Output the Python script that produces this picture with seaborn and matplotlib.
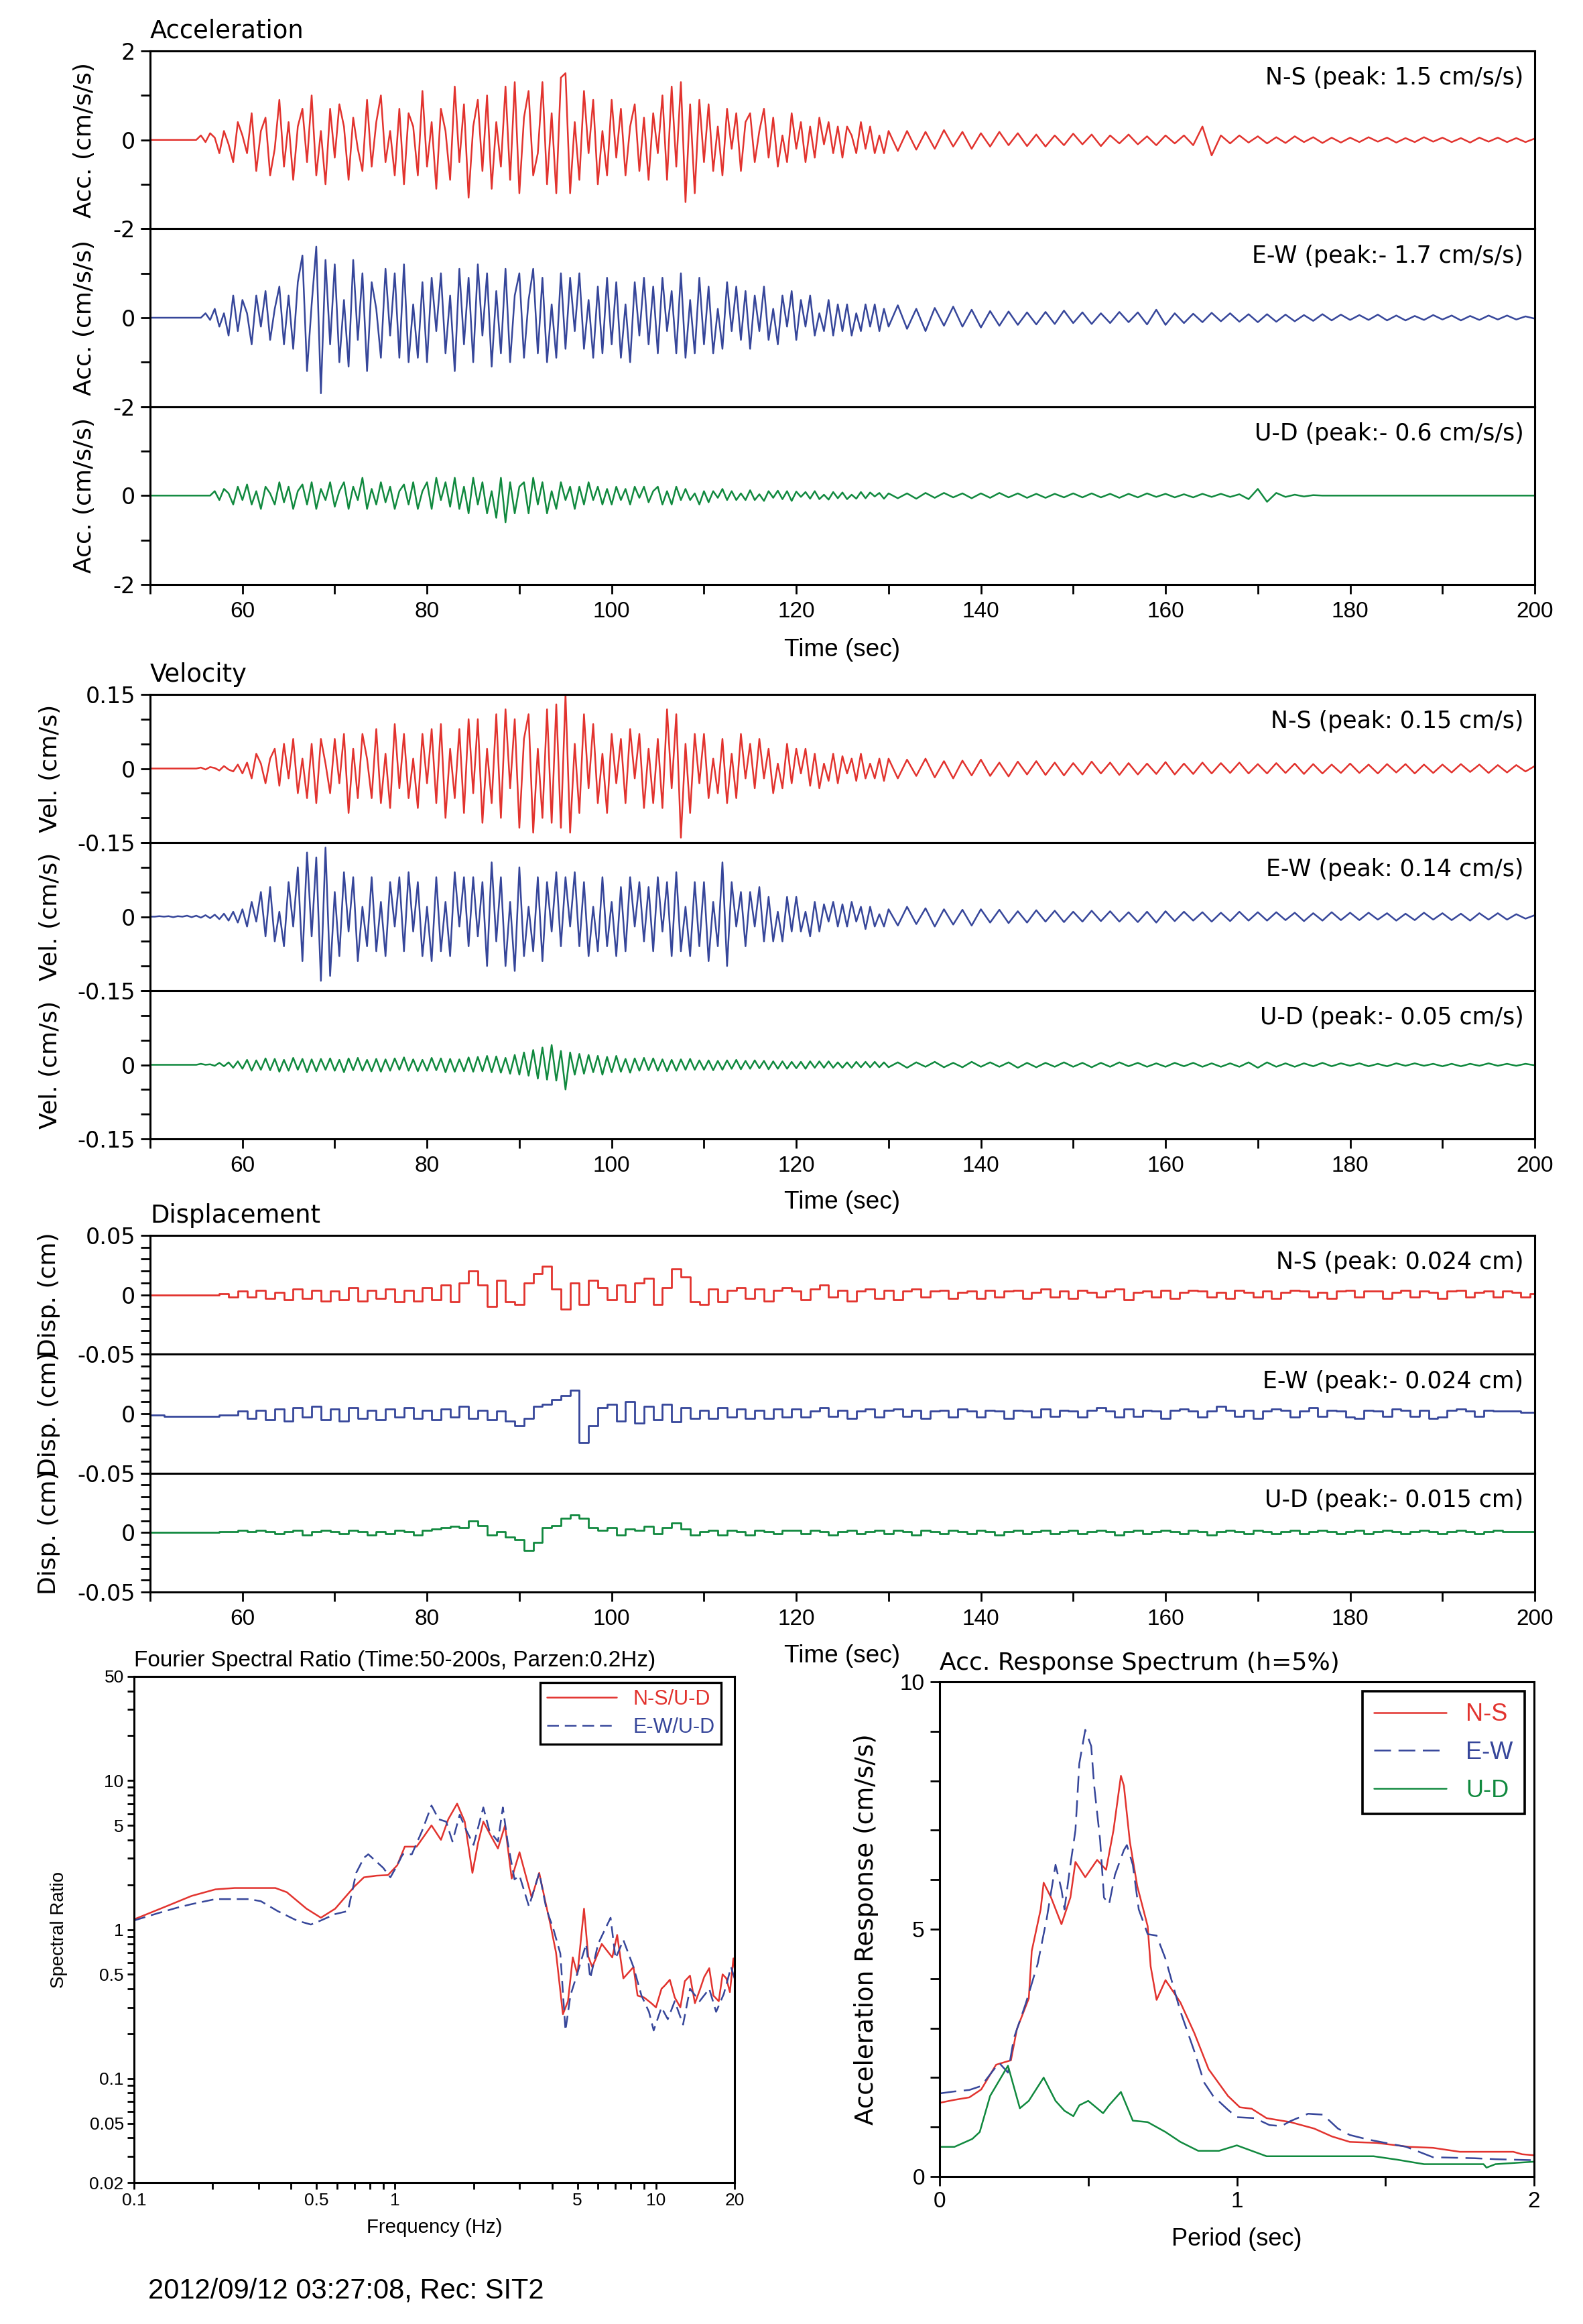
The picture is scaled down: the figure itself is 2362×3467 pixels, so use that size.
import numpy as np
import matplotlib
matplotlib.use("Agg")
import matplotlib.pyplot as plt
import seaborn as sns
from matplotlib import font_manager
from matplotlib.ticker import MultipleLocator, FixedLocator, FuncFormatter, LogLocator, NullFormatter

# ---------------- data ----------------
# time grids (s): 0.5 s samples for the strong part, 1 s for the coda
T_DENSE = np.arange(50.0, 130.25, 0.5)
T_TAIL = np.arange(131.0, 200.5, 1.0)
T_DISP = np.arange(50.0, 200.5, 1.0)

# acceleration (cm/s/s)
ACC_NS_DENSE = [0, 0, 0, 0, 0, 0, 0, 0, 0, 0,
                0, 0.1, -0.05, 0.15, 0.05, -0.3, 0.2, -0.1, -0.5, 0.4,
                0.1, -0.3, 0.6, -0.7, 0.2, 0.5, -0.8, -0.2, 0.9, -0.6,
                0.4, -0.9, 0.3, 0.7, -0.5, 1.0, -0.8, 0.2, -1.0, 0.7,
                -0.4, 0.8, 0.3, -0.9, 0.5, -0.2, -0.7, 0.9, -0.6, 0.4,
                1.0, -0.5, 0.2, -0.8, 0.7, -1.0, 0.6, 0.3, -0.8, 1.1,
                -0.6, 0.4, -1.1, 0.7, 0.2, -0.9, 1.2, -0.5, 0.8, -1.3,
                0.3, 0.9, -0.7, 1.0, -1.1, 0.4, -0.6, 1.2, -0.9, 1.3,
                -1.2, 0.5, 1.1, -0.8, -0.3, 1.3, -1.0, 0.6, -1.2, 1.4,
                1.5, -1.2, 0.4, -0.9, 1.1, -0.3, 0.9, -1.0, 0.2, -0.8,
                0.9, -0.4, 0.7, -0.8, 0.3, 0.8, -0.7, 0.5, -0.9, 0.6,
                -0.3, 1.0, -0.9, 1.2, -0.6, 1.3, -1.4, 0.8, -1.2, 0.9,
                -0.5, 0.8, -0.7, 0.3, -0.8, 0.7, -0.2, 0.6, -0.7, 0.4,
                0.6, -0.5, 0.2, 0.7, -0.4, 0.5, -0.6, 0.1, -0.5, 0.6,
                -0.2, 0.4, -0.5, 0.3, -0.4, 0.5, -0.1, 0.4, -0.3, 0.3,
                -0.4, 0.3, 0.1, -0.3, 0.4, -0.2, 0.3, -0.3, 0.1, -0.3,
                0.2]
ACC_NS_TAIL = [-0.25, 0.2, -0.22, 0.18, -0.2, 0.22, -0.15, 0.18, -0.2, 0.15,
               -0.15, 0.18, -0.12, 0.15, -0.14, 0.12, -0.15, 0.1, -0.12, 0.14,
               -0.1, 0.12, -0.14, 0.1, -0.08, 0.12, -0.1, 0.08, -0.12, 0.1,
               -0.08, 0.1, -0.12, 0.3, -0.35, 0.1, -0.08, 0.1, -0.06, 0.08,
               -0.08, 0.06, -0.07, 0.08, -0.05, 0.06, -0.07, 0.05, -0.06, 0.05,
               -0.05, 0.06, -0.04, 0.05, -0.06, 0.04, -0.05, 0.06, -0.04, 0.05,
               -0.05, 0.04, -0.06, 0.05, -0.04, 0.05, -0.05, 0.04, -0.05, 0.03]

ACC_EW_DENSE = [0, 0, 0, 0, 0, 0, 0, 0, 0, 0,
                0, 0, 0.1, -0.05, 0.2, -0.2, 0.1, -0.4, 0.5, -0.3,
                0.4, 0.1, -0.6, 0.5, -0.2, 0.6, -0.5, 0.2, 0.7, -0.6,
                0.5, -0.7, 0.8, 1.4, -1.2, 0.3, 1.6, -1.7, 1.3, -0.6,
                1.2, -1.0, 0.4, -1.1, 1.3, -0.5, 1.0, -1.2, 0.8, 0.2,
                -0.9, 1.1, -0.4, 1.0, -0.9, 1.2, -1.0, 0.3, -0.9, 0.8,
                -1.0, 0.9, -0.3, 1.0, -0.8, 0.5, -1.2, 1.1, -0.6, 0.9,
                -1.0, 1.2, -0.4, 1.0, -1.1, 0.6, -0.8, 1.1, -1.0, 0.5,
                1.0, -0.9, 0.4, 1.1, -0.8, 0.9, -1.0, 0.3, -0.9, 1.0,
                -0.7, 0.9, -0.3, 1.0, -0.7, 0.4, -0.9, 0.7, -0.8, 0.9,
                -0.6, 0.8, -0.9, 0.3, -1.0, 0.8, -0.4, 0.9, -0.6, 0.7,
                -0.8, 0.9, -0.3, 0.6, -0.8, 1.0, -0.9, 0.4, -0.8, 0.9,
                -0.6, 0.7, -0.8, 0.2, -0.7, 0.8, -0.3, 0.7, -0.5, 0.6,
                -0.7, 0.5, -0.3, 0.7, -0.5, 0.2, -0.6, 0.5, -0.2, 0.6,
                -0.5, 0.4, -0.2, 0.5, -0.4, 0.1, -0.3, 0.4, -0.4, 0.3,
                -0.3, 0.3, -0.4, 0.1, -0.3, 0.3, -0.2, 0.3, -0.3, 0.2,
                -0.2]
ACC_EW_TAIL = [0.28, -0.25, 0.2, -0.3, 0.22, -0.18, 0.25, -0.2, 0.18, -0.22,
               0.15, -0.18, 0.14, -0.16, 0.12, -0.15, 0.13, -0.14, 0.16, -0.12,
               0.12, -0.14, 0.1, -0.12, 0.13, -0.1, 0.12, -0.15, 0.18, -0.16,
               0.1, -0.12, 0.09, -0.1, 0.11, -0.08, 0.1, -0.09, 0.08, -0.1,
               0.08, -0.09, 0.07, -0.08, 0.06, -0.07, 0.08, -0.06, 0.07, -0.05,
               0.06, -0.05, 0.07, -0.06, 0.05, -0.06, 0.04, -0.05, 0.06, -0.04,
               0.05, -0.06, 0.04, -0.05, 0.05, -0.04, 0.05, -0.04, 0.03, -0.02]

ACC_UD_DENSE = [0, 0, 0, 0, 0, 0, 0, 0, 0, 0,
                0, 0, 0, 0, 0.1, -0.1, 0.15, 0.05, -0.2, 0.2,
                -0.1, 0.25, -0.2, 0.1, -0.3, 0.2, 0.05, -0.2, 0.3, -0.15,
                0.2, -0.3, 0.1, 0.25, -0.2, 0.3, -0.3, 0.15, -0.1, 0.3,
                -0.25, 0.1, 0.3, -0.3, 0.2, -0.1, 0.4, -0.3, 0.15, -0.2,
                0.3, -0.15, 0.2, -0.3, 0.1, 0.25, -0.2, 0.3, -0.3, 0.1,
                0.3, -0.3, 0.4, -0.1, 0.3, -0.25, 0.4, -0.3, 0.2, -0.4,
                0.4, -0.2, 0.3, -0.4, 0.1, -0.5, 0.4, -0.6, 0.3, -0.4,
                0.2, 0.3, -0.4, 0.4, -0.2, 0.3, -0.4, 0.1, -0.3, 0.3,
                -0.1, 0.2, -0.3, 0.2, -0.2, 0.3, -0.1, 0.2, -0.2, 0.15,
                -0.2, 0.2, -0.1, 0.15, -0.2, 0.2, -0.05, 0.2, -0.15, 0.1,
                0.2, -0.2, 0.1, -0.2, 0.2, -0.1, 0.15, -0.1, 0.05, -0.2,
                0.1, -0.15, 0.1, -0.05, 0.15, -0.1, 0.1, -0.1, 0.05, -0.1,
                0.12, -0.1, 0.03, -0.12, 0.1, -0.05, 0.11, -0.08, 0.1, -0.12,
                0.09, -0.03, 0.08, -0.07, 0.1, -0.08, 0.02, -0.09, 0.08, -0.06,
                0.07, -0.08, 0.02, -0.07, 0.08, -0.06, 0.07, -0.02, 0.06, -0.07,
                0.05]
ACC_UD_TAIL = [-0.06, 0.05, -0.07, 0.06, -0.05, 0.06, -0.04, 0.05, -0.06, 0.05,
               -0.05, 0.06, -0.04, 0.05, -0.05, 0.04, -0.05, 0.04, -0.04, 0.05,
               -0.04, 0.05, -0.04, 0.04, -0.05, 0.04, -0.04, 0.05, -0.03, 0.04,
               -0.04, 0.03, -0.04, 0.04, -0.03, 0.04, -0.03, 0.03, -0.08, 0.15,
               -0.14, 0.06, -0.03, 0.02, -0.02, 0.01, 0, 0, 0, 0,
               0, 0, 0, 0, 0, 0, 0, 0, 0, 0,
               0, 0, 0, 0, 0, 0, 0, 0, 0, 0]

# velocity (cm/s)
VEL_NS_DENSE = [0, 0, 0, 0, 0, 0, 0, 0, 0, 0,
                0, 0.002, -0.002, 0.003, 0.001, -0.004, 0.005, -0.002, -0.006, 0.008,
                -0.01, 0.012, -0.02, 0.03, 0.01, -0.03, 0.02, 0.04, -0.035, 0.05,
                -0.02, 0.06, -0.05, 0.02, -0.06, 0.05, -0.07, 0.06, 0.01, -0.05,
                0.06, -0.03, 0.07, -0.09, 0.04, -0.06, 0.07, 0.02, -0.06, 0.08,
                -0.07, 0.03, -0.08, 0.09, -0.04, 0.07, -0.06, 0.02, -0.08, 0.07,
                -0.03, 0.08, -0.07, 0.09, -0.1, 0.04, -0.06, 0.08, -0.09, 0.1,
                -0.05, 0.1, -0.11, 0.04, -0.07, 0.11, -0.1, 0.12, -0.04, 0.1,
                -0.12, 0.06, 0.11, -0.13, 0.04, -0.1, 0.12, -0.11, 0.13, -0.12,
                0.15, -0.13, 0.05, -0.09, 0.11, -0.04, 0.09, -0.07, 0.03, -0.09,
                0.07, -0.03, 0.06, -0.07, 0.08, -0.02, 0.07, -0.08, 0.04, -0.07,
                0.06, -0.08, 0.12, -0.04, 0.11, -0.14, 0.05, -0.09, 0.07, -0.03,
                0.07, -0.06, 0.02, -0.05, 0.06, -0.07, 0.03, -0.06, 0.07, -0.02,
                0.05, -0.04, 0.06, -0.02, 0.04, -0.05, 0.01, -0.04, 0.05, -0.03,
                0.04, -0.01, 0.04, -0.035, 0.03, -0.04, 0.01, -0.025, 0.03, -0.03,
                0.025, -0.01, 0.02, -0.025, 0.03, -0.02, 0.01, -0.02, 0.02, -0.025,
                0.02]
VEL_NS_TAIL = [-0.02, 0.018, -0.015, 0.02, -0.018, 0.015, -0.02, 0.016, -0.014, 0.018,
               -0.015, 0.012, -0.016, 0.014, -0.012, 0.015, -0.013, 0.012, -0.014, 0.011,
               -0.012, 0.014, -0.01, 0.012, -0.013, 0.011, -0.012, 0.01, -0.011, 0.013,
               -0.012, 0.01, -0.011, 0.012, -0.01, 0.011, -0.009, 0.012, -0.01, 0.009,
               -0.01, 0.011, -0.009, 0.01, -0.011, 0.009, -0.01, 0.008, -0.009, 0.01,
               -0.009, 0.008, -0.01, 0.009, -0.008, 0.009, -0.01, 0.008, -0.009, 0.008,
               -0.008, 0.009, -0.007, 0.008, -0.009, 0.007, -0.008, 0.007, -0.006, 0.005]

VEL_EW_DENSE = [0, 0, 0.001, 0, 0.001, -0.001, 0.001, 0, 0.002, -0.001,
                0.002, -0.002, 0.003, -0.003, 0.004, -0.005, 0.006, -0.008, 0.01, -0.012,
                0.015, -0.02, 0.03, -0.01, 0.05, -0.04, 0.06, -0.05, 0.01, -0.06,
                0.07, -0.02, 0.1, -0.09, 0.13, -0.04, 0.12, -0.13, 0.14, -0.12,
                0.05, -0.08, 0.09, -0.03, 0.08, -0.09, 0.02, -0.06, 0.08, -0.07,
                0.03, -0.08, 0.07, -0.02, 0.08, -0.07, 0.09, -0.03, 0.07, -0.08,
                0.02, -0.09, 0.08, -0.07, 0.03, -0.08, 0.09, -0.02, 0.08, -0.06,
                0.08, -0.04, 0.07, -0.1, 0.11, -0.05, 0.08, -0.1, 0.03, -0.11,
                0.1, -0.08, 0.02, -0.07, 0.08, -0.09, 0.07, -0.03, 0.09, -0.06,
                0.08, -0.02, 0.09, -0.06, 0.07, -0.08, 0.02, -0.07, 0.08, -0.06,
                0.03, -0.08, 0.06, -0.07, 0.08, -0.02, 0.07, -0.05, 0.06, -0.07,
                0.08, -0.03, 0.07, -0.08, 0.09, -0.07, 0.02, -0.08, 0.07, -0.06,
                0.07, -0.09, 0.03, -0.06, 0.11, -0.1, 0.07, -0.02, 0.05, -0.06,
                0.05, -0.02, 0.06, -0.05, 0.04, -0.05, 0.01, -0.05, 0.04, -0.03,
                0.04, -0.03, 0.01, -0.04, 0.03, -0.03, 0.025, -0.01, 0.03, -0.02,
                0.025, -0.02, 0.03, -0.01, 0.02, -0.025, 0.02, -0.02, 0.005, -0.02,
                0.015]
VEL_EW_TAIL = [-0.018, 0.02, -0.015, 0.017, -0.02, 0.015, -0.016, 0.014, -0.018, 0.015,
               -0.012, 0.014, -0.013, 0.011, -0.012, 0.013, -0.01, 0.012, -0.011, 0.01,
               -0.01, 0.012, -0.009, 0.011, -0.01, 0.009, -0.011, 0.01, -0.012, 0.011,
               -0.009, 0.01, -0.008, 0.009, -0.01, 0.008, -0.009, 0.01, -0.008, 0.009,
               -0.008, 0.009, -0.007, 0.008, -0.009, 0.007, -0.008, 0.009, -0.007, 0.008,
               -0.007, 0.008, -0.006, 0.007, -0.008, 0.006, -0.007, 0.008, -0.006, 0.007,
               -0.007, 0.006, -0.008, 0.007, -0.006, 0.007, -0.006, 0.005, -0.004, 0.003]

VEL_UD_DENSE = [0, 0, 0, 0, 0, 0, 0, 0, 0, 0,
                0, 0.002, 0, 0.001, -0.002, 0.004, -0.003, 0.005, -0.006, 0.007,
                -0.008, 0.01, -0.012, 0.009, -0.01, 0.013, -0.011, 0.012, -0.014, 0.01,
                -0.012, 0.014, -0.01, 0.012, -0.015, 0.011, -0.013, 0.012, -0.01, 0.013,
                -0.012, 0.01, -0.015, 0.013, -0.011, 0.014, -0.012, 0.01, -0.013, 0.012,
                -0.014, 0.011, -0.012, 0.013, -0.01, 0.015, -0.012, 0.011, -0.013, 0.01,
                -0.012, 0.014, -0.011, 0.013, -0.015, 0.012, -0.014, 0.011, -0.013, 0.015,
                -0.014, 0.016, -0.013, 0.018, -0.015, 0.017, -0.016, 0.014, -0.018, 0.02,
                -0.02, 0.025, -0.022, 0.03, -0.028, 0.035, -0.03, 0.04, -0.032, 0.028,
                -0.05, 0.025, -0.02, 0.022, -0.018, 0.02, -0.015, 0.018, -0.02, 0.016,
                -0.015, 0.018, -0.014, 0.012, -0.016, 0.013, -0.012, 0.014, -0.011, 0.013,
                -0.012, 0.011, -0.013, 0.01, -0.012, 0.011, -0.01, 0.012, -0.01, 0.009,
                -0.01, 0.009, -0.011, 0.008, -0.01, 0.009, -0.008, 0.01, -0.009, 0.008,
                -0.008, 0.009, -0.007, 0.008, -0.009, 0.007, -0.008, 0.007, -0.008, 0.006,
                -0.007, 0.006, -0.008, 0.007, -0.006, 0.007, -0.006, 0.007, -0.006, 0.005,
                -0.006, 0.005, -0.006, 0.006, -0.005, 0.006, -0.005, 0.006, -0.005, 0.005,
                -0.005]
VEL_UD_TAIL = [0.005, -0.006, 0.005, -0.004, 0.006, -0.005, 0.004, -0.005, 0.006, -0.004,
               0.005, -0.004, 0.005, -0.006, 0.004, -0.005, 0.004, -0.004, 0.005, -0.004,
               0.004, -0.005, 0.004, -0.004, 0.005, -0.003, 0.004, -0.004, 0.003, -0.004,
               0.004, -0.003, 0.004, -0.004, 0.003, -0.004, 0.003, -0.004, 0.005, -0.006,
               0.005, -0.004, 0.003, -0.004, 0.003, -0.003, 0.004, -0.003, 0.003, -0.002,
               0.003, -0.003, 0.002, -0.003, 0.003, -0.002, 0.003, -0.002, 0.002, -0.003,
               0.002, -0.003, 0.002, -0.002, 0.003, -0.002, 0.002, -0.002, 0.002, -0.001]

# displacement (cm), 1 s samples
DISP_NS = [0, 0, 0, 0, 0, 0, 0, 0, 0.001, -0.002,
           0.003, -0.002, 0.004, -0.003, 0.002, -0.004, 0.005, -0.003, 0.004, -0.005,
           0.003, -0.004, 0.006, -0.005, 0.004, -0.003, 0.005, -0.006, 0.004, -0.005,
           0.006, -0.004, 0.008, -0.006, 0.01, 0.02, 0.008, -0.01, 0.012, -0.006,
           -0.008, 0.01, 0.018, 0.024, 0.005, -0.012, 0.01, -0.008, 0.012, 0.006,
           -0.004, 0.008, -0.006, 0.01, 0.014, -0.008, 0.006, 0.022, 0.015, -0.006,
           -0.008, 0.005, -0.006, 0.004, 0.006, -0.003, 0.005, -0.005, 0.004, 0.006,
           0.003, -0.004, 0.005, 0.008, -0.002, 0.004, -0.005, 0.003, 0.005, -0.003,
           0.004, -0.004, 0.003, 0.005, -0.002, 0.003, 0.004, -0.003, 0.002, 0.003,
           -0.003, 0.004, -0.002, 0.003, 0.004, -0.003, 0.002, 0.005, -0.002, 0.003,
           -0.003, 0.004, 0.002, -0.002, 0.003, 0.005, -0.004, 0.002, 0.003, -0.002,
           0.004, -0.003, 0.002, 0.004, 0.003, -0.002, 0.002, -0.003, 0.004, 0.002,
           -0.002, 0.003, -0.003, 0.002, 0.004, 0.003, -0.002, 0.002, -0.003, 0.003,
           0.004, -0.002, 0.003, 0.003, -0.003, 0.002, 0.004, -0.002, 0.003, 0.002,
           -0.003, 0.003, 0.004, -0.002, 0.002, 0.003, -0.002, 0.003, 0.002, -0.002,
           0.001]
DISP_EW = [-0.001, -0.001, -0.002, -0.002, -0.002, -0.002, -0.002, -0.002, -0.001, -0.001,
           0.002, -0.004, 0.003, -0.005, 0.004, -0.006, 0.005, -0.003, 0.006, -0.005,
           0.004, -0.006, 0.005, -0.004, 0.003, -0.005, 0.004, -0.003, 0.005, -0.004,
           0.003, -0.005, 0.004, -0.003, 0.006, -0.004, 0.003, -0.005, 0.002, -0.006,
           -0.01, -0.004, 0.006, 0.008, 0.012, 0.015, 0.02, -0.024, -0.01, 0.005,
           0.008, -0.006, 0.01, -0.008, 0.006, -0.005, 0.008, -0.007, 0.005, -0.004,
           0.003, -0.004, 0.005, -0.003, 0.004, -0.004, 0.003, -0.004, 0.004, -0.003,
           0.004, -0.003, 0.002, 0.005, -0.002, 0.003, -0.004, 0.002, 0.004, -0.003,
           0.003, 0.004, -0.002, 0.003, -0.004, 0.002, 0.003, -0.003, 0.004, 0.002,
           -0.003, 0.003, 0.002, -0.004, 0.003, 0.002, -0.003, 0.004, -0.002, 0.003,
           0.002, -0.003, 0.003, 0.005, 0.002, -0.003, 0.004, -0.002, 0.003, 0.002,
           -0.004, 0.003, 0.004, 0.002, -0.003, 0.002, 0.006, 0.003, -0.002, 0.003,
           -0.004, 0.002, 0.004, 0.003, -0.003, 0.002, 0.005, -0.002, 0.003, 0.002,
           -0.003, -0.004, 0.003, 0.002, -0.002, 0.004, 0.003, -0.002, 0.003, -0.004,
           -0.003, 0.003, 0.004, 0.002, -0.002, 0.003, 0.002, 0.002, 0.002, 0.001,
           0.001]
DISP_UD = [0, 0, 0, 0, 0, 0, 0, 0, 0.001, 0.001,
           0.002, 0.001, 0.002, 0.001, -0.001, 0.001, 0.002, -0.002, 0.001, 0.002,
           0.001, -0.001, 0.002, 0.001, -0.002, 0.001, -0.001, 0.002, 0.001, -0.002,
           0.002, 0.003, 0.004, 0.005, 0.004, 0.01, 0.006, -0.002, 0.001, -0.004,
           -0.006, -0.015, -0.008, 0.004, 0.006, 0.012, 0.015, 0.012, 0.004, 0.002,
           0.004, -0.002, 0.003, 0.002, 0.005, -0.001, 0.004, 0.008, 0.003, -0.002,
           0.001, 0.002, -0.002, 0.002, 0.001, -0.002, 0.002, 0.001, -0.001, 0.002,
           0.002, -0.001, 0.002, 0.001, -0.002, 0.001, 0.002, -0.001, 0.001, 0.002,
           -0.001, 0.002, 0.001, -0.002, 0.002, 0.001, -0.001, 0.002, 0.001, -0.001,
           0.002, 0.001, -0.002, 0.001, 0.002, -0.001, 0.001, 0.002, -0.001, 0.001,
           0.002, -0.001, 0.001, 0.002, 0.001, -0.002, 0.001, 0.002, -0.001, 0.001,
           0.002, 0.001, -0.001, 0.002, 0.001, -0.002, 0.001, 0.002, 0.001, -0.001,
           0.002, 0.001, -0.001, 0.001, 0.002, -0.001, 0.001, 0.002, 0.001, -0.001,
           0.001, 0.002, -0.001, 0.001, 0.002, 0.001, -0.001, 0.001, 0.002, 0.001,
           -0.001, 0.001, 0.002, 0.001, -0.001, 0.001, 0.002, 0.001, 0.001, 0.001,
           0.001]

PEAK_NOTES = {
    "acc": ["N-S (peak: 1.5 cm/s/s)", "E-W (peak:- 1.7 cm/s/s)", "U-D (peak:- 0.6 cm/s/s)"],
    "vel": ["N-S (peak: 0.15 cm/s)", "E-W (peak: 0.14 cm/s)", "U-D (peak:- 0.05 cm/s)"],
    "disp": ["N-S (peak: 0.024 cm)", "E-W (peak:- 0.024 cm)", "U-D (peak:- 0.015 cm)"],
}

# Fourier spectral ratio
FSR_F_NS = [0.1, 0.134, 0.166, 0.205, 0.243, 0.30, 0.348, 0.385, 0.458, 0.52, 0.59, 0.70, 0.76,
            0.85, 0.94, 1.02, 1.09, 1.21, 1.30, 1.38, 1.50, 1.60, 1.73, 1.85, 1.98, 2.08, 2.18,
            2.34, 2.48, 2.64, 2.8, 3.0, 3.15, 3.34, 3.57, 3.75, 3.94, 4.14, 4.4, 4.6, 4.8, 5.0,
            5.3, 5.5, 5.7, 6.2, 6.8, 7.1, 7.5, 8.2, 8.5, 9.0, 9.6, 10.0, 10.5, 10.8, 11.3, 11.8,
            12.4, 12.9, 13.5, 14.1, 14.7, 15.3, 16.0, 16.6, 17.4, 18.0, 18.6, 19.2, 19.8, 20.0]
FSR_NS = [1.17, 1.44, 1.68, 1.86, 1.9, 1.9, 1.9, 1.78, 1.38, 1.2, 1.38, 1.95, 2.24,
          2.3, 2.32, 2.7, 3.6, 3.6, 4.3, 5.0, 4.0, 5.5, 7.0, 5.3, 2.4, 3.8, 5.3,
          4.2, 3.5, 5.0, 2.2, 3.3, 2.4, 1.64, 2.4, 1.6, 1.08, 0.7, 0.27, 0.33, 0.65, 0.5,
          1.38, 0.66, 0.56, 0.8, 0.65, 0.92, 0.47, 0.56, 0.36, 0.35, 0.32, 0.30, 0.40, 0.42, 0.46, 0.35,
          0.30, 0.45, 0.49, 0.32, 0.39, 0.48, 0.55, 0.36, 0.33, 0.5, 0.47, 0.38, 0.64, 0.55]
FSR_F_EW = [0.1, 0.124, 0.146, 0.166, 0.205, 0.275, 0.306, 0.355, 0.42, 0.476, 0.52, 0.59, 0.66,
            0.71, 0.76, 0.79, 0.90, 0.96, 1.02, 1.07, 1.16, 1.27, 1.38, 1.47, 1.57, 1.66, 1.77,
            1.88, 2.0, 2.18, 2.3, 2.48, 2.59, 2.7, 2.87, 3.0, 3.26, 3.57, 3.8, 4.05, 4.3, 4.5,
            4.7, 5.0, 5.4, 5.6, 6.0, 6.7, 7.0, 7.5, 8.2, 8.8, 9.4, 9.8, 10.5, 11.1, 11.8, 12.7,
            13.5, 14.7, 16.0, 17.0, 18.2, 19.4, 20.0]
FSR_EW = [1.15, 1.29, 1.4, 1.48, 1.6, 1.6, 1.55, 1.33, 1.15, 1.08, 1.15, 1.27, 1.33,
          2.4, 3.03, 3.2, 2.6, 2.24, 2.7, 3.2, 3.2, 4.6, 6.8, 5.5, 5.3, 3.9, 5.9,
          4.6, 3.7, 6.6, 4.6, 3.9, 6.6, 3.9, 2.17, 2.3, 1.43, 2.4, 1.38, 1.0, 0.69, 0.21,
          0.36, 0.51, 0.8, 0.47, 0.8, 1.2, 0.64, 0.85, 0.56, 0.36, 0.28, 0.21, 0.3, 0.25, 0.33, 0.23,
          0.4, 0.33, 0.4, 0.28, 0.37, 0.56, 0.47]

# acceleration response spectrum, h = 5 %
RS_P_NS = [0.0, 0.05, 0.10, 0.14, 0.19, 0.24, 0.26, 0.30, 0.31, 0.34, 0.35, 0.375, 0.41, 0.44,
           0.457, 0.49, 0.53, 0.56, 0.585, 0.61, 0.62, 0.64, 0.665, 0.70, 0.71, 0.73, 0.76, 0.81,
           0.857, 0.905, 0.97, 1.01, 1.05, 1.10, 1.18, 1.26, 1.32, 1.38, 1.47, 1.58, 1.66, 1.75,
           1.93, 1.96, 2.0]
RS_NS = [1.49, 1.55, 1.6, 1.76, 2.26, 2.35, 2.98, 3.6, 4.56, 5.4, 5.94, 5.64, 5.1, 5.64,
         6.36, 6.05, 6.4, 6.2, 7.0, 8.1, 7.9, 6.77, 5.87, 5.06, 4.25, 3.57, 3.97, 3.52,
         2.9, 2.17, 1.63, 1.4, 1.37, 1.18, 1.1, 0.97, 0.81, 0.70, 0.68, 0.6, 0.58, 0.5,
         0.5, 0.45, 0.43]
RS_P_EW = [0.0, 0.05, 0.10, 0.14, 0.20, 0.23, 0.25, 0.29, 0.33, 0.36, 0.39, 0.41, 0.42, 0.44,
           0.457, 0.47, 0.49, 0.51, 0.52, 0.54, 0.553, 0.57, 0.59, 0.62, 0.63, 0.65, 0.67, 0.70,
           0.73, 0.76, 0.81, 0.857, 0.89, 0.92, 0.97, 1.0, 1.06, 1.11, 1.15, 1.18, 1.24, 1.29,
           1.34, 1.38, 1.44, 1.5, 1.57, 1.66, 1.80, 1.87, 2.0]
RS_EW = [1.68, 1.72, 1.75, 1.83, 2.3, 2.1, 2.8, 3.5, 4.3, 5.2, 6.3, 5.8, 5.4, 6.3,
         7.0, 8.35, 9.03, 8.7, 7.9, 6.8, 5.64, 5.5, 6.1, 6.6, 6.7, 6.3, 5.4, 4.9,
         4.87, 4.4, 3.34, 2.53, 1.9, 1.63, 1.35, 1.2, 1.18, 1.04, 1.02, 1.12, 1.27, 1.25,
         0.97, 0.84, 0.75, 0.68, 0.6, 0.39, 0.37, 0.35, 0.33]
RS_P_UD = [0.0, 0.05, 0.11, 0.135, 0.17, 0.23, 0.27, 0.30, 0.35, 0.39, 0.42, 0.45, 0.47, 0.50,
           0.55, 0.57, 0.61, 0.65, 0.70, 0.76, 0.81, 0.87, 0.94, 1.0, 1.05, 1.1, 1.46, 1.54,
           1.63, 1.83, 1.84, 1.87, 2.0]
RS_UD = [0.6, 0.6, 0.76, 0.9, 1.63, 2.24, 1.38, 1.53, 2.0, 1.53, 1.33, 1.22, 1.44, 1.53,
         1.28, 1.44, 1.71, 1.13, 1.1, 0.9, 0.7, 0.52, 0.52, 0.63, 0.52, 0.41, 0.41, 0.34,
         0.25, 0.25, 0.18, 0.25, 0.30]

RED = "#E2332E"
BLUE = "#36469A"
GREEN = "#10893E"

# ---------------- style ----------------
sns.set_style("ticks")
plt.rcParams["font.family"] = ["DejaVu Sans"]
names = {f.name for f in font_manager.fontManager.ttflist}
NARROW = "Liberation Sans Narrow" if "Liberation Sans Narrow" in names else "Liberation Sans"
plt.rcParams.update({
    "axes.linewidth": 1.1,
    "axes.edgecolor": "black",
    "xtick.direction": "out",
    "ytick.direction": "out",
    "xtick.major.width": 1.0,
    "ytick.major.width": 1.0,
    "xtick.minor.width": 1.0,
    "ytick.minor.width": 1.0,
    "xtick.color": "black",
    "ytick.color": "black",
    "text.color": "black",
    "axes.labelcolor": "black",
})

W, H = 2362, 3467
fig = plt.figure(figsize=(W / 200, H / 200), dpi=200)


def box(left, top, right, bottom):
    return fig.add_axes([left / W, 1 - bottom / H, (right - left) / W, (bottom - top) / H])


def wave_group(top, bottom, series, lim, ticks, tick_text, ylab, title, notes,
               label_x, xlab_off, style="default", lw=0.9):
    ph = (bottom - top) / 3
    axes = []
    for i, (t, v, c) in enumerate(series):
        ax = box(224, top + i * ph, 2290, top + (i + 1) * ph)
        sns.lineplot(x=t, y=v, ax=ax, color=c, linewidth=lw, drawstyle=style,
                     estimator=None, sort=False)
        ax.set_xlim(50, 200)
        ax.set_ylim(-lim, lim)
        ax.yaxis.set_major_locator(FixedLocator(ticks))
        labs = list(tick_text)
        if i > 0:
            labs[-1] = ""
        ax.set_yticklabels(labs)
        ax.tick_params(axis="y", length=5, pad=3, labelsize=12)
        ax.set_ylabel(ylab, fontsize=13)
        ax.yaxis.set_label_coords(label_x, 0.5)
        ax.set_xlabel("")
        ax.annotate(notes[i], xy=(1, 1), xycoords="axes fraction", xytext=(-6, -14.5),
                    textcoords="offset points", ha="right", va="center", fontsize=12.5)
        if i < 2:
            ax.tick_params(axis="x", bottom=False, labelbottom=False)
        for s in ax.spines.values():
            s.set_visible(True)
        axes.append(ax)
    axb = axes[-1]
    axb.xaxis.set_major_locator(MultipleLocator(10))
    axb.xaxis.set_major_formatter(FuncFormatter(
        lambda v, p: f"{v:.0f}" if (round(v) % 20 == 0 and v > 55) else ""))
    axb.tick_params(axis="x", length=5, pad=4, labelsize=12, labelfontfamily=NARROW)
    axb.set_xlabel("Time (sec)", fontsize=13.3, family=NARROW)
    axb.xaxis.set_label_coords(0.5, -xlab_off)
    axes[0].annotate(title, xy=(0, 1), xycoords="axes fraction", xytext=(0, 4),
                     textcoords="offset points", ha="left", va="bottom", fontsize=13.3)
    return axes


t_wave = np.concatenate([T_DENSE, T_TAIL])

wave_group(76, 872,
           [(t_wave, np.array(ACC_NS_DENSE + ACC_NS_TAIL), RED),
            (t_wave, np.array(ACC_EW_DENSE + ACC_EW_TAIL), BLUE),
            (t_wave, np.array(ACC_UD_DENSE + ACC_UD_TAIL), GREEN)],
           2, [-2, -1, 0, 1, 2], ["-2", "", "0", "", "2"], "Acc. (cm/s/s)",
           "Acceleration", PEAK_NOTES["acc"], -0.039, 0.30)

wave_group(1036, 1699,
           [(t_wave, np.array(VEL_NS_DENSE + VEL_NS_TAIL), RED),
            (t_wave, np.array(VEL_EW_DENSE + VEL_EW_TAIL), BLUE),
            (t_wave, np.array(VEL_UD_DENSE + VEL_UD_TAIL), GREEN)],
           0.15, [-0.15, -0.1, -0.05, 0, 0.05, 0.1, 0.15],
           ["-0.15", "", "", "0", "", "", "0.15"], "Vel. (cm/s)",
           "Velocity", PEAK_NOTES["vel"], -0.064, 0.35)

wave_group(1843, 2375,
           [(T_DISP, np.array(DISP_NS), RED),
            (T_DISP, np.array(DISP_EW), BLUE),
            (T_DISP, np.array(DISP_UD), GREEN)],
           0.05, [-0.05, -0.04, -0.03, -0.02, -0.01, 0, 0.01, 0.02, 0.03, 0.04, 0.05],
           ["-0.05", "", "", "", "", "0", "", "", "", "", "0.05"], "Disp. (cm)",
           "Displacement", PEAK_NOTES["disp"], -0.065, 0.44, style="steps-mid", lw=1.0)

# ---------------- Fourier spectral ratio ----------------
axf = box(200, 2501, 1096, 3256)
sns.lineplot(x=FSR_F_NS, y=FSR_NS, ax=axf, color=RED, linewidth=0.9, label="N-S/U-D",
             estimator=None, sort=False)
sns.lineplot(x=FSR_F_EW, y=FSR_EW, ax=axf, color=BLUE, linewidth=0.9, label="E-W/U-D",
             linestyle=(0, (7, 3.5)), estimator=None, sort=False)
axf.set_xscale("log")
axf.set_yscale("log")
axf.set_xlim(0.1, 20)
axf.set_ylim(0.02, 50)
axf.xaxis.set_major_locator(FixedLocator([0.1, 0.5, 1, 5, 10, 20]))
axf.set_xticklabels(["0.1", "0.5", "1", "5", "10", "20"])
axf.xaxis.set_minor_locator(LogLocator(base=10, subs=(2, 3, 4, 6, 7, 8, 9)))
axf.xaxis.set_minor_formatter(NullFormatter())
axf.yaxis.set_major_locator(FixedLocator([0.02, 0.05, 0.1, 0.5, 1, 5, 10, 50]))
axf.set_yticklabels(["0.02", "0.05", "0.1", "0.5", "1", "5", "10", "50"])
axf.yaxis.set_minor_locator(LogLocator(base=10, subs=(2, 3, 4, 6, 7, 8, 9)))
axf.yaxis.set_minor_formatter(NullFormatter())
axf.tick_params(which="both", length=3.5, labelsize=9.5, labelfontfamily="Liberation Sans",
                pad=2)
axf.set_xlabel("Frequency (Hz)", fontsize=10.6, family="Liberation Sans")
axf.xaxis.set_label_coords(0.5, -0.07)
axf.set_ylabel("Spectral Ratio", fontsize=10, family="Liberation Sans")
axf.yaxis.set_label_coords(-0.11, 0.5)
axf.annotate("Fourier Spectral Ratio (Time:50-200s, Parzen:0.2Hz)", xy=(0, 1),
             xycoords="axes fraction", xytext=(0, 3), textcoords="offset points",
             ha="left", va="bottom", fontsize=12, family="Liberation Sans")
leg = axf.legend(loc="upper right", bbox_to_anchor=(1 - 20 / 896, 1 - 9 / 755),
                 borderaxespad=0, frameon=True, fancybox=False, edgecolor="black",
                 framealpha=1, handlelength=3.4, labelcolor="linecolor",
                 borderpad=0.32, labelspacing=0.4, prop={"family": NARROW, "size": 11})
leg.get_frame().set_linewidth(1.2)

# ---------------- Acceleration response spectrum ----------------
axr = box(1402, 2509, 2289, 3247)
sns.lineplot(x=RS_P_NS, y=RS_NS, ax=axr, color=RED, linewidth=0.9, label="N-S",
             estimator=None, sort=False)
sns.lineplot(x=RS_P_EW, y=RS_EW, ax=axr, color=BLUE, linewidth=0.9, label="E-W",
             linestyle=(0, (10, 4.5)), estimator=None, sort=False)
sns.lineplot(x=RS_P_UD, y=RS_UD, ax=axr, color=GREEN, linewidth=0.9, label="U-D",
             estimator=None, sort=False)
axr.set_xlim(0, 2)
axr.set_ylim(0, 10)
axr.xaxis.set_major_locator(FixedLocator([0, 1, 2]))
axr.xaxis.set_minor_locator(FixedLocator([0.5, 1.5]))
axr.yaxis.set_major_locator(FixedLocator([0, 5, 10]))
axr.yaxis.set_minor_locator(MultipleLocator(1))
axr.set_xticklabels(["0", "1", "2"])
axr.set_yticklabels(["0", "5", "10"])
axr.tick_params(which="both", length=5, labelsize=12, labelfontfamily="Liberation Sans", pad=3)
axr.set_xlabel("Period (sec)", fontsize=13, family="Liberation Sans")
axr.xaxis.set_label_coords(0.5, -0.103)
axr.set_ylabel("Acceleration Response (cm/s/s)", fontsize=13.4)
axr.yaxis.set_label_coords(-0.103, 0.5)
axr.annotate("Acc. Response Spectrum (h=5%)", xy=(0, 1), xycoords="axes fraction",
             xytext=(0, 4), textcoords="offset points", ha="left", va="bottom",
             fontsize=13)
leg2 = axr.legend(loc="upper right", bbox_to_anchor=(1 - 14 / 887, 1 - 14 / 738),
                  borderaxespad=0, frameon=True, fancybox=False, edgecolor="black",
                  framealpha=1, handlelength=3.0, labelcolor="linecolor", borderpad=0.48,
                  labelspacing=0.6, prop={"family": NARROW, "size": 13})
leg2.get_frame().set_linewidth(1.3)

fig.text(221 / W, 1 - 3418 / H, "2012/09/12 03:27:08, Rec: SIT2", ha="left", va="center",
         fontsize=15, family="Liberation Sans")

fig.savefig("out.png", dpi=200, facecolor="white")
